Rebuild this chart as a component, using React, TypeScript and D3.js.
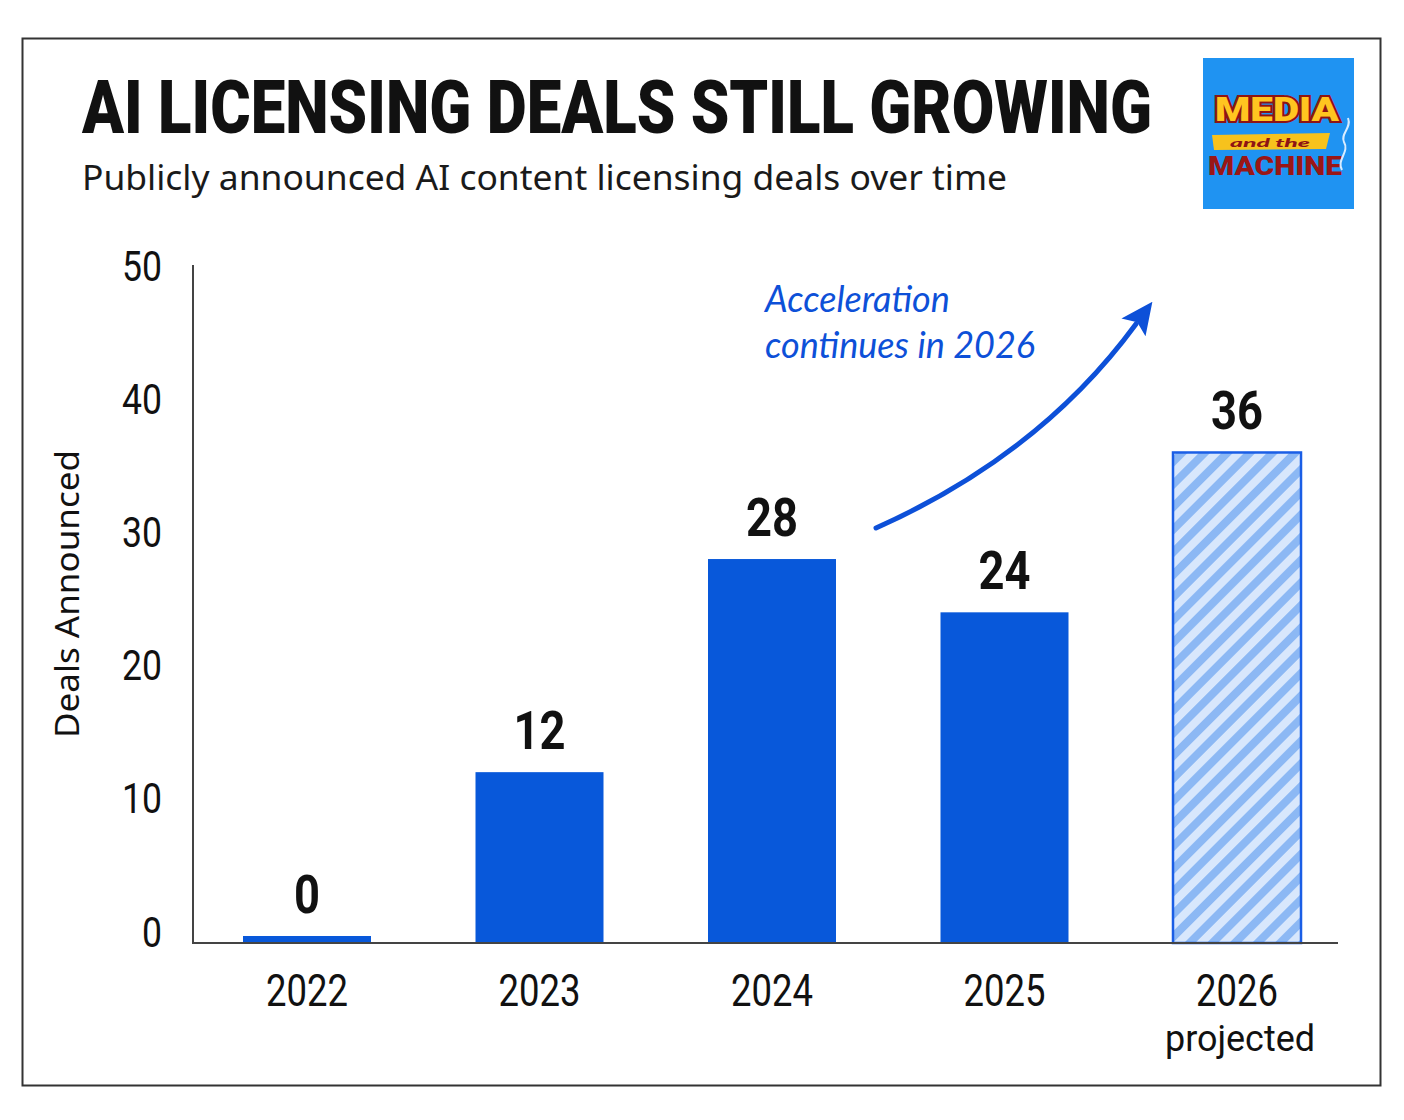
import { useEffect, useRef } from 'react';
import * as d3 from 'd3';

const years = ['2022', '2023', '2024', '2025', '2026'];
const deals = [0, 12, 28, 24, 36];
const projected = [false, false, false, false, true];
const yTicks = [0, 10, 20, 30, 40, 50];

const W = 1404;
const H = 1120;
const BAR = '#0858da';
const INK = '#111';
const AXIS_Y = 943;

export default function App() {
  const svgRef = useRef<SVGSVGElement>(null);

  useEffect(() => {
    if (!svgRef.current) return;
    const svg = d3.select(svgRef.current);
    svg.selectAll('*').remove();

    const defs = svg.append('defs');
    const pat = defs.append('pattern')
      .attr('id', 'hatch')
      .attr('patternUnits', 'userSpaceOnUse')
      .attr('width', 16)
      .attr('height', 16)
      .attr('patternTransform', 'rotate(45)');
    pat.append('rect').attr('width', 16).attr('height', 16).attr('fill', '#d8e7fc');
    pat.append('rect').attr('width', 8).attr('height', 16).attr('fill', '#8cb8f4');

    defs.append('marker')
      .attr('id', 'arrowhead')
      .attr('markerUnits', 'userSpaceOnUse')
      .attr('viewBox', '0 0 30 28')
      .attr('refX', 4)
      .attr('refY', 14)
      .attr('markerWidth', 32)
      .attr('markerHeight', 30)
      .attr('orient', 'auto')
      .append('path')
      .attr('d', 'M0,0 L30,14 L0,28 L6,14 Z')
      .attr('fill', '#0d50d8');

    svg.append('rect')
      .attr('width', W).attr('height', H).attr('fill', '#fff');

    // outer frame
    svg.append('rect')
      .attr('x', 22.5).attr('y', 38.5)
      .attr('width', 1358).attr('height', 1047)
      .attr('fill', 'none')
      .attr('stroke', '#333')
      .attr('stroke-width', 2);

    // titles
    svg.append('text')
      .attr('x', 82).attr('y', 133)
      .attr('font-family', 'Roboto, sans-serif')
      .attr('font-weight', 900)
      .attr('font-size', 74)
      .attr('fill', INK)
      .attr('textLength', 1070)
      .attr('lengthAdjust', 'spacingAndGlyphs')
      .text('AI LICENSING DEALS STILL GROWING');

    svg.append('text')
      .attr('x', 82).attr('y', 190)
      .attr('font-family', '"Noto Sans", sans-serif')
      .attr('font-size', 34)
      .attr('fill', '#1a1a1a')
      .attr('textLength', 925)
      .attr('lengthAdjust', 'spacingAndGlyphs')
      .text('Publicly announced AI content licensing deals over time');

    // logo
    const logo = svg.append('g');
    logo.append('rect')
      .attr('x', 1203).attr('y', 58).attr('width', 151).attr('height', 151)
      .attr('fill', '#1f93f2');
    logo.append('text')
      .attr('x', 1277).attr('y', 121)
      .attr('text-anchor', 'middle')
      .attr('font-family', 'Roboto, sans-serif')
      .attr('font-weight', 900)
      .attr('font-size', 34)
      .attr('fill', '#ffc520')
      .attr('stroke', '#8e1414')
      .attr('stroke-width', 4)
      .attr('paint-order', 'stroke')
      .attr('textLength', 124)
      .attr('lengthAdjust', 'spacingAndGlyphs')
      .text('MEDIA');
    logo.append('path')
      .attr('d', 'M1212,135 L1330,133 L1326,149 L1214,150 Z')
      .attr('fill', '#f7c21c');
    logo.append('text')
      .attr('x', 1270).attr('y', 147)
      .attr('text-anchor', 'middle')
      .attr('font-family', 'Lato, sans-serif')
      .attr('font-style', 'italic')
      .attr('font-weight', 900)
      .attr('font-size', 12)
      .attr('fill', '#8e1414')
      .attr('textLength', 80)
      .attr('lengthAdjust', 'spacingAndGlyphs')
      .text('and the');
    logo.append('text')
      .attr('x', 1275).attr('y', 175)
      .attr('text-anchor', 'middle')
      .attr('font-family', 'Roboto, sans-serif')
      .attr('font-weight', 900)
      .attr('font-size', 26)
      .attr('fill', '#9a1616')
      .attr('textLength', 134)
      .attr('lengthAdjust', 'spacingAndGlyphs')
      .text('MACHINE');
    logo.append('path')
      .attr('d', 'M1342,170 C1336,160 1350,152 1344,142 C1340,134 1352,128 1348,118')
      .attr('fill', 'none')
      .attr('stroke', '#d8ecff')
      .attr('stroke-width', 2);

    // scales
    const x = d3.scalePoint<string>().domain(years).range([307, 1237]);
    const barW = 128;
    const y = d3.scaleLinear().domain([0, 50]).range([932, 266]);

    // y tick labels
    svg.append('g')
      .selectAll('text')
      .data(yTicks)
      .join('text')
      .attr('x', 162)
      .attr('y', d => y(d))
      .attr('dominant-baseline', 'central')
      .attr('text-anchor', 'end')
      .attr('font-family', 'Roboto, sans-serif')
      .attr('font-weight', 400)
      .attr('font-size', 42)
      .attr('fill', INK)
      .attr('textLength', d => String(d).length * 20)
      .attr('lengthAdjust', 'spacingAndGlyphs')
      .text(d => String(d));

    svg.append('text')
      .attr('transform', `translate(79, 594) rotate(-90)`)
      .attr('text-anchor', 'middle')
      .attr('font-family', '"Noto Sans", sans-serif')
      .attr('font-size', 32)
      .attr('fill', INK)
      .attr('textLength', 288)
      .attr('lengthAdjust', 'spacingAndGlyphs')
      .text('Deals Announced');

    // bars
    const rows = years.map((yr, i) => ({ yr, v: deals[i], proj: projected[i] }));
    const barTop = (v: number) => (v > 0 ? y(v) : AXIS_Y - 7);

    svg.append('g')
      .selectAll('rect')
      .data(rows)
      .join('rect')
      .attr('x', d => x(d.yr)! - barW / 2)
      .attr('y', d => barTop(d.v))
      .attr('width', barW)
      .attr('height', d => AXIS_Y - barTop(d.v))
      .attr('fill', d => (d.proj ? 'url(#hatch)' : BAR))
      .attr('stroke', d => (d.proj ? '#1a5ee6' : 'none'))
      .attr('stroke-width', 2.5);

    svg.append('g')
      .selectAll('text')
      .data(rows)
      .join('text')
      .attr('x', d => x(d.yr)!)
      .attr('y', d => barTop(d.v) - 23)
      .attr('text-anchor', 'middle')
      .attr('font-family', 'Roboto, sans-serif')
      .attr('font-weight', 700)
      .attr('font-size', 54)
      .attr('fill', INK)
      .attr('textLength', d => String(d.v).length * 26)
      .attr('lengthAdjust', 'spacingAndGlyphs')
      .text(d => String(d.v));

    // axes lines
    svg.append('path')
      .attr('d', `M193,265V${AXIS_Y}H1338`)
      .attr('fill', 'none')
      .attr('stroke', '#444')
      .attr('stroke-width', 2);

    // x labels
    const xl = svg.append('g');
    xl.selectAll('text.yr')
      .data(rows)
      .join('text')
      .attr('class', 'yr')
      .attr('x', d => x(d.yr)!)
      .attr('y', 1006)
      .attr('text-anchor', 'middle')
      .attr('font-family', 'Roboto, sans-serif')
      .attr('font-weight', 400)
      .attr('font-size', 44)
      .attr('fill', INK)
      .attr('textLength', 82)
      .attr('lengthAdjust', 'spacingAndGlyphs')
      .text(d => d.yr);
    xl.selectAll('text.proj')
      .data(rows.filter(d => d.proj))
      .join('text')
      .attr('class', 'proj')
      .attr('x', d => x(d.yr)! + 3)
      .attr('y', 1051)
      .attr('text-anchor', 'middle')
      .attr('font-family', 'Roboto, sans-serif')
      .attr('font-size', 37)
      .attr('fill', INK)
      .attr('textLength', 150)
      .attr('lengthAdjust', 'spacingAndGlyphs')
      .text('projected');

    // annotation
    const ann = svg.append('g')
      .attr('font-family', 'Lato, "Open Sans", sans-serif')
      .attr('font-style', 'italic')
      .attr('font-size', 36)
      .attr('fill', '#0d50d8');
    ann.append('text').attr('x', 765).attr('y', 312).text('Acceleration');
    ann.append('text').attr('x', 765).attr('y', 358).text('continues in 2026');

    svg.append('path')
      .attr('d', 'M876,528 Q1040,455 1136,324')
      .attr('fill', 'none')
      .attr('stroke', '#0d50d8')
      .attr('stroke-width', 5)
      .attr('stroke-linecap', 'round')
      .attr('marker-end', 'url(#arrowhead)');
  }, []);

  return (
    <svg
      ref={svgRef}
      width={W}
      height={H}
      style={{ position: 'absolute', left: 0, top: 0, display: 'block' }}
    />
  );
}
